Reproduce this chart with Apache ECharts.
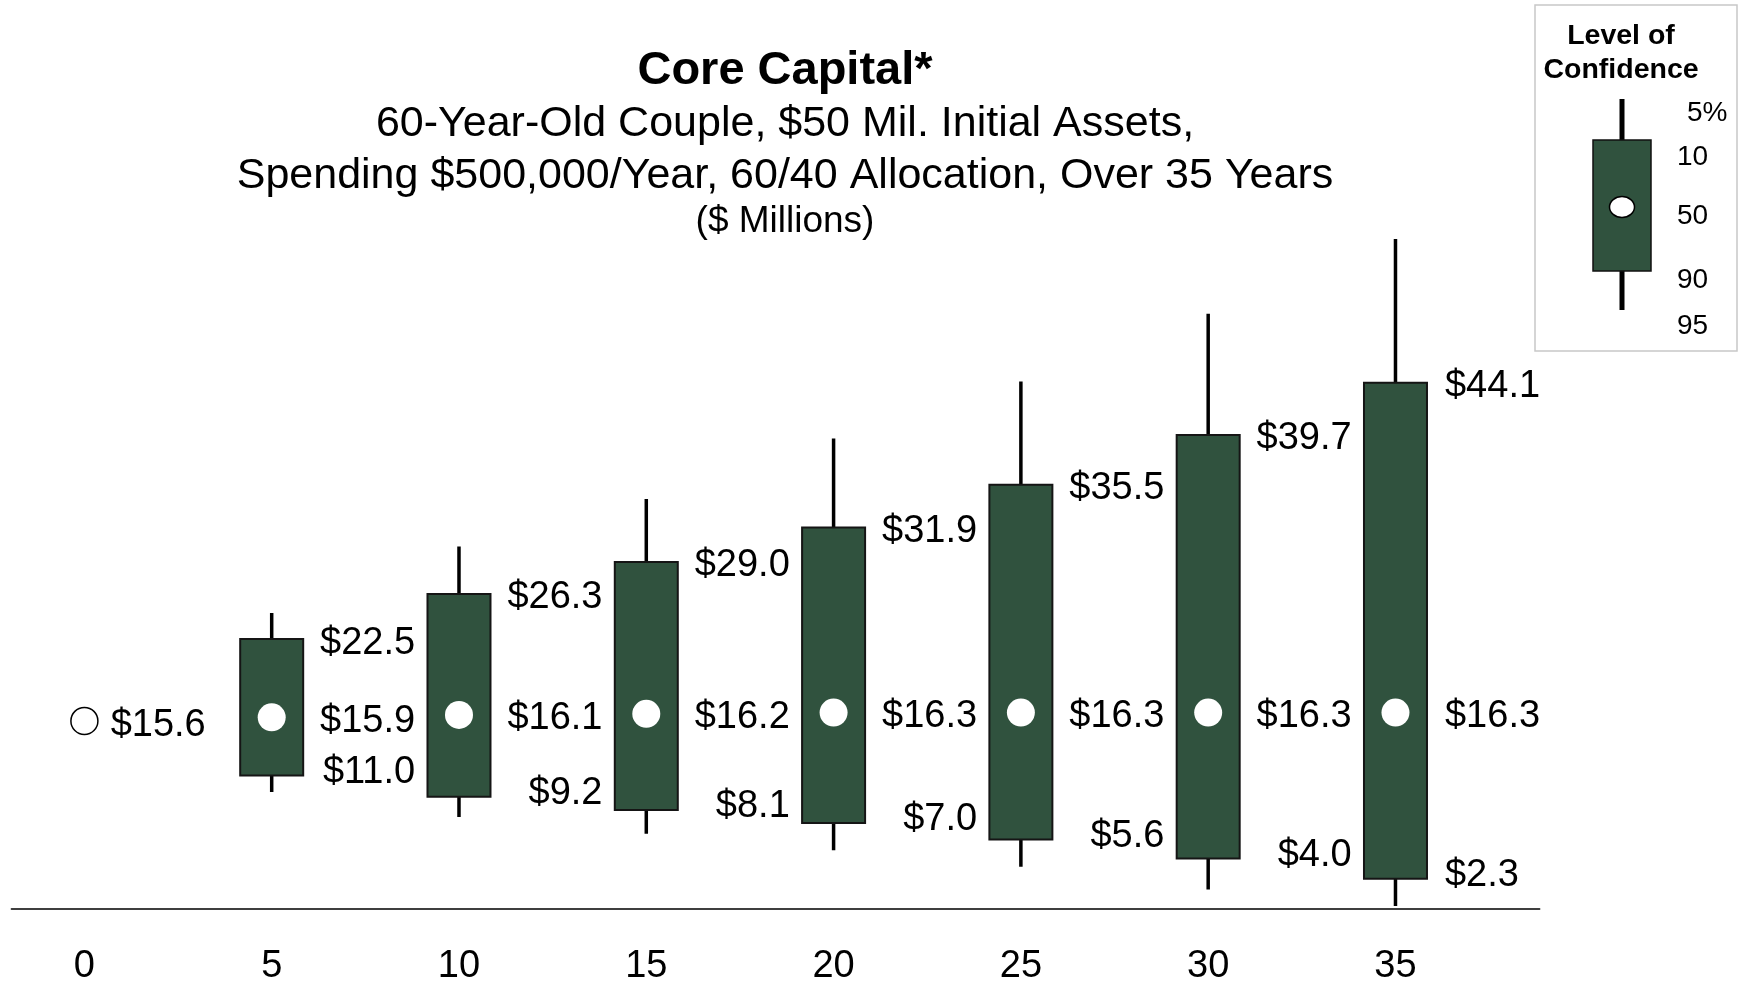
<!DOCTYPE html>
<html><head><meta charset="utf-8">
<script src="https://cdn.jsdelivr.net/npm/echarts@6/dist/echarts.min.js"></script>
<style>html,body{margin:0;padding:0;background:#fff}#c{width:1742px;height:982px}</style>
</head><body><div id="c"></div>
<script>
// ---- data ($ millions) ----
const years = [0, 5, 10, 15, 20, 25, 30, 35];
const xTickLabels = ['0', '5', '10', '15', '20', '25', '30', '35'];
const p5  = [null, 24.7, 30.3, 34.3, 39.4, 44.2, 49.9, 56.2]; // 5% level (top whisker)
const p10 = [null, 22.5, 26.3, 29.0, 31.9, 35.5, 39.7, 44.1]; // 10 (box top)
const p50 = [15.6, 15.9, 16.1, 16.2, 16.3, 16.3, 16.3, 16.3]; // 50 (median)
const p90 = [null, 11.0, 9.2, 8.1, 7.0, 5.6, 4.0, 2.3];       // 90 (box bottom)
const p95 = [null, 9.6, 7.5, 6.1, 4.7, 3.3, 1.4, 0.0];        // 95 (bottom whisker)
const legendLevels = ['5%', '10', '50', '90', '95'];
const titleText = 'Core Capital*';
const subLines = ['60-Year-Old Couple, $50 Mil. Initial Assets,', 'Spending $500,000/Year, 60/40 Allocation, Over 35 Years'];
const unitText = '($ Millions)';
const legendTitle = ['Level of', 'Confidence'];

const FONT = '"Liberation Sans", Arial, Helvetica, sans-serif';
const GREEN = '#30523E';
const fmt = v => '$' + v.toFixed(1);

const boxData = [];
for (let i = 0; i < years.length; i++) {
  if (p10[i] == null) continue;
  boxData.push([years[i], p5[i], p10[i], p50[i], p90[i], p95[i]]);
}
const startData = [];
for (let i = 0; i < years.length; i++) {
  if (p10[i] == null) startData.push([years[i], p50[i]]);
}

const chart = echarts.init(document.getElementById('c'), null, { renderer: 'canvas' });
const lastYear = years[years.length - 1];

function txt(text, x, y, align, size) {
  return { type: 'text', style: { text: text, x: x, y: y, align: align, verticalAlign: 'middle',
    fontSize: size, fontFamily: FONT, fill: '#000' } };
}
function gtext(text, x, y, size, bold, align) {
  return { type: 'text', x: x, y: y, style: { text: text, align: align || 'center', verticalAlign: 'middle',
    fontSize: size, fontWeight: bold ? 'bold' : 'normal', fontFamily: FONT, fill: '#000' } };
}

const legendYs = [113, 157, 216, 280, 326];
const legendXs = [1687, 1677, 1677, 1677, 1677];

const graphics = [
  gtext(titleText, 785, 71, 47, true),
  gtext(subLines[0], 785, 124, 43, false),
  gtext(subLines[1], 785, 176, 43, false),
  gtext(unitText, 785, 222, 37, false),
  { type: 'rect', shape: { x: 1535, y: 5, width: 202, height: 346 }, style: { fill: '#fff', stroke: '#c8c8c8', lineWidth: 1.5 } },
  gtext(legendTitle[0], 1621, 36, 28.5, true),
  gtext(legendTitle[1], 1621, 70, 28.5, true),
  { type: 'line', shape: { x1: 1622, y1: 99, x2: 1622, y2: 310 }, style: { stroke: '#000', lineWidth: 5 } },
  { type: 'rect', shape: { x: 1593, y: 140, width: 58, height: 131 }, style: { fill: GREEN, stroke: '#111', lineWidth: 1.5 } },
  { type: 'ellipse', shape: { cx: 1622, cy: 207, rx: 12.5, ry: 10.5 }, style: { fill: '#fff', stroke: '#000', lineWidth: 1.5 } }
];
legendLevels.forEach((t, i) => graphics.push(gtext(t, legendXs[i], legendYs[i], 28, false, 'left')));

const option = {
  backgroundColor: '#fff',
  animation: false,
  grid: { left: 11.35, right: 202.3, top: 194, bottom: 73, containLabel: false, outerBoundsMode: 'none' },
  xAxis: {
    type: 'value', min: -1.95, max: 38.85,
    axisLine: { show: true, onZero: false, lineStyle: { color: '#000', width: 1.5 } },
    axisTick: { show: false },
    splitLine: { show: false },
    axisLabel: {
      customValues: years,
      formatter: v => xTickLabels[years.indexOf(v)],
      fontSize: 38, fontFamily: FONT, color: '#000', margin: 39, lineHeight: 38
    }
  },
  yAxis: { type: 'value', min: -0.25, max: 60, show: false, splitLine: { show: false } },
  graphic: graphics,
  series: [
    {
      type: 'custom',
      name: 'Confidence range',
      data: boxData,
      encode: { x: 0, y: [1, 2, 3, 4, 5] },
      renderItem: function (params, api) {
        const x = api.value(0);
        const top = api.coord([x, api.value(1)]);
        const q1 = api.coord([x, api.value(2)]);
        const med = api.coord([x, api.value(3)]);
        const q3 = api.coord([x, api.value(4)]);
        const bot = api.coord([x, api.value(5)]);
        const w = 63;
        const cx = top[0];
        const right = cx + w / 2;
        const isLast = x === lastYear;
        const lx = isLast ? right + 18 : right + 112;
        const al = isLast ? 'left' : 'right';
        return {
          type: 'group',
          children: [
            { type: 'line', shape: { x1: cx, y1: top[1], x2: cx, y2: bot[1] }, style: { stroke: '#000', lineWidth: 3.5 } },
            { type: 'rect', shape: { x: cx - w / 2, y: q1[1], width: w, height: q3[1] - q1[1] }, style: { fill: GREEN, stroke: '#151515', lineWidth: 2 } },
            { type: 'circle', shape: { cx: cx, cy: med[1], r: 14 }, style: { fill: '#fff' } },
            txt(fmt(api.value(2)), lx, q1[1] + 4, al, 38),
            txt(fmt(api.value(3)), lx, med[1] + 4, al, 38),
            txt(fmt(api.value(4)), lx, q3[1] - 3, al, 38)
          ]
        };
      },
      z: 2
    },
    {
      type: 'scatter',
      name: 'Start',
      data: startData,
      symbol: 'circle',
      symbolSize: 27,
      itemStyle: { color: '#fff', borderColor: '#000', borderWidth: 1.5, opacity: 1 },
      label: { show: true, position: 'right', distance: 12, offset: [0, 5], formatter: p => fmt(p.value[1]),
        fontSize: 38, fontFamily: FONT, color: '#000' },
      emphasis: { disabled: true },
      z: 3
    }
  ]
};
chart.setOption(option);
</script>
</body></html>
